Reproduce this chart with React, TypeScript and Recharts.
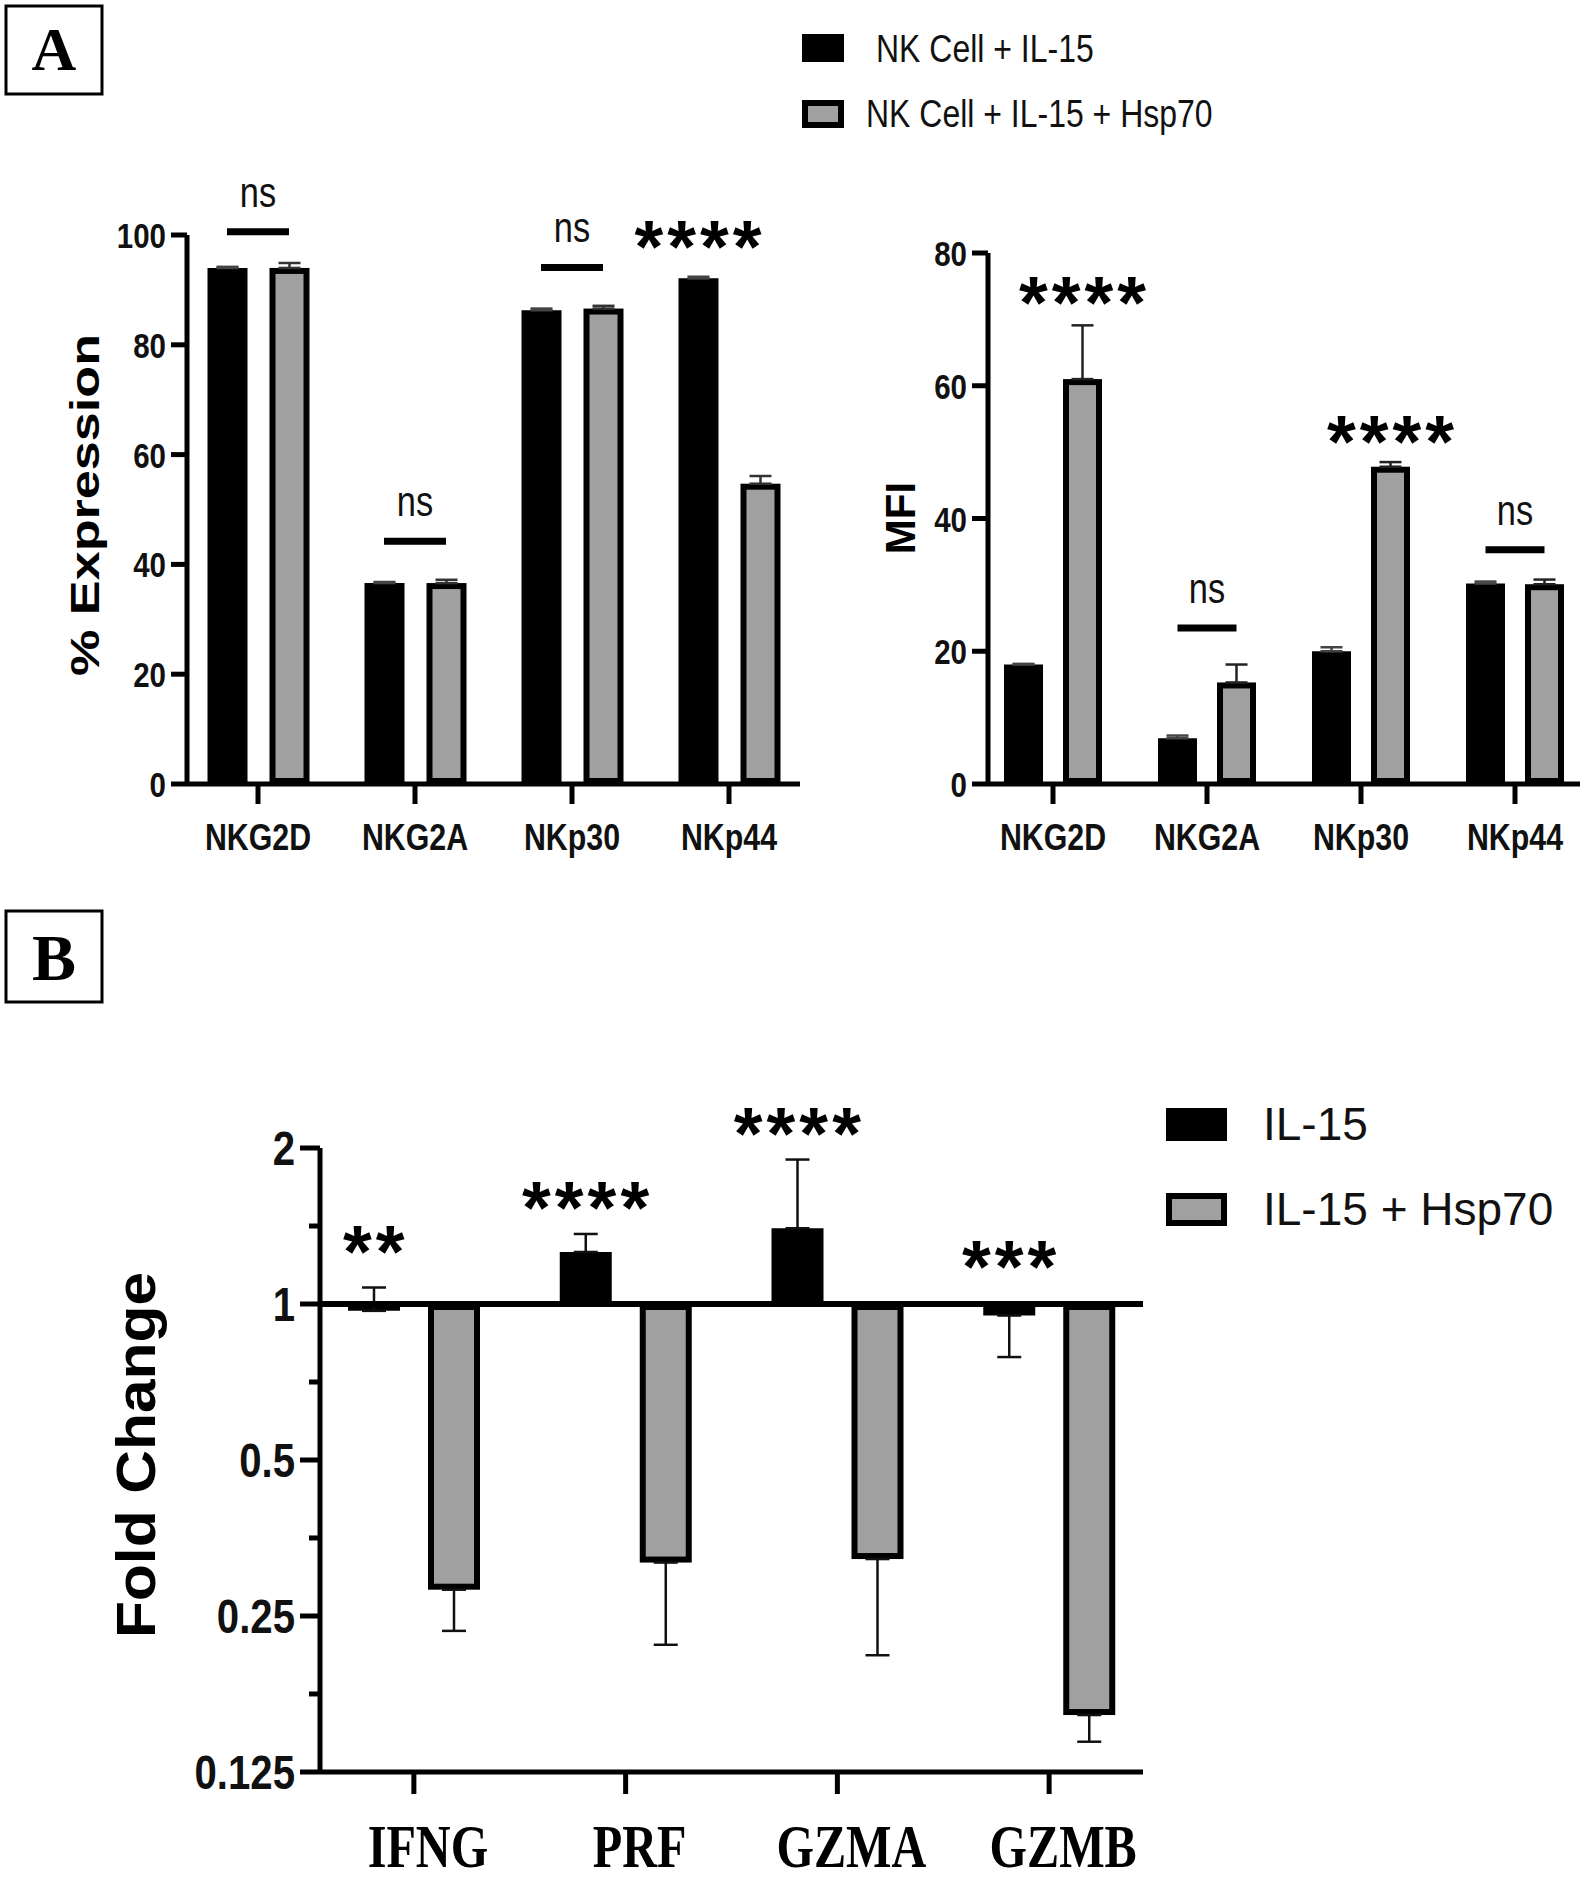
import React from "react";
import { BarChart, Bar, XAxis, YAxis, ErrorBar, ReferenceLine, ReferenceDot } from "recharts";

const SANS = "'Liberation Sans', Arial, Helvetica, sans-serif";
const SERIF = "'Liberation Serif', 'Times New Roman', Times, serif";
const GREY = "#a0a0a0";
const INK = "#111";
const NARROW = 0.82; // figure uses a condensed sans

// ---- panel A: receptor expression
const markers = ["NKG2D", "NKG2A", "NKp30", "NKp44"];
const pctIL15 = [94.0, 36.6, 86.3, 92.1];
const pctIL15Top = [94.2, 36.8, 86.6, 92.4];
const pctHsp = [94.0, 36.6, 86.6, 54.7];
const pctHspTop = [94.9, 37.2, 87.1, 56.1];
const pctTicks = [0, 20, 40, 60, 80, 100];

const mfiIL15 = [18.0, 6.9, 20.0, 30.2];
const mfiIL15Top = [18.1, 7.3, 20.6, 30.5];
const mfiHsp = [61.0, 15.3, 47.8, 30.1];
const mfiHspTop = [69.1, 18.0, 48.5, 30.8];
const mfiTicks = [0, 20, 40, 60, 80];

// ---- panel B: fold change (log2 axis)
const genes = ["IFNG", "PRF", "GZMA", "GZMB"];
const fcIL15 = [0.97, 1.26, 1.4, 0.95];
const fcIL15End = [1.076, 1.365, 1.9, 0.79];
const fcHsp = [0.281, 0.317, 0.322, 0.161];
const fcHspEnd = [0.234, 0.22, 0.21, 0.143];
const fcTicks = [0.125, 0.1768, 0.25, 0.3536, 0.5, 0.7071, 1, 1.4142, 2];
const fcMajor = [0.125, 0.25, 0.5, 1, 2];
const fcLabels = ["0.125", "0.25", "0.5", "1", "2"];

type Sig = { cat: string; label: string; at: number; over: "pair" | "il15" | "hsp" };

const sigPct: Sig[] = [
  { cat: "NKG2D", label: "ns", at: 100.6, over: "pair" },
  { cat: "NKG2A", label: "ns", at: 44.2, over: "pair" },
  { cat: "NKp30", label: "ns", at: 94.1, over: "pair" },
  { cat: "NKp44", label: "****", at: 99.3, over: "il15" },
];
const sigMfi: Sig[] = [
  { cat: "NKG2D", label: "****", at: 73.7, over: "hsp" },
  { cat: "NKG2A", label: "ns", at: 23.5, over: "pair" },
  { cat: "NKp30", label: "****", at: 52.7, over: "hsp" },
  { cat: "NKp44", label: "ns", at: 35.3, over: "pair" },
];
const sigFc: Sig[] = [
  { cat: "IFNG", label: "**", at: 1.306, over: "il15" },
  { cat: "PRF", label: "****", at: 1.59, over: "il15" },
  { cat: "GZMA", label: "****", at: 2.21, over: "il15" },
  { cat: "GZMB", label: "***", at: 1.22, over: "il15" },
];

const spread = (v: number, end: number) => (end >= v ? [0, end - v] : [v - end, 0]);

const pctRows = markers.map((name, i) => ({
  name,
  il15: pctIL15[i],
  hsp: pctHsp[i],
  il15Err: spread(pctIL15[i], pctIL15Top[i]),
  hspErr: spread(pctHsp[i], pctHspTop[i]),
}));
const mfiRows = markers.map((name, i) => ({
  name,
  il15: mfiIL15[i],
  hsp: mfiHsp[i],
  il15Err: spread(mfiIL15[i], mfiIL15Top[i]),
  hspErr: spread(mfiHsp[i], mfiHspTop[i]),
}));
// bars hang from 1 (no change), so each bar is a [1, value] range
const fcRows = genes.map((name, i) => ({
  name,
  il15: [1, fcIL15[i]],
  hsp: [1, fcHsp[i]],
  il15Err: spread(fcIL15[i], fcIL15End[i]),
  hspErr: spread(fcHsp[i], fcHspEnd[i]),
}));

// grey bar with the black border kept inside the bar width
function GreyBar(props: any) {
  const { x, y, width, height } = props;
  if (x == null || y == null || !width || !height) return <g />;
  const sw = 6;
  const top = Math.min(y, y + height);
  const h = Math.abs(height);
  return (
    <rect
      x={x + sw / 2}
      y={top + sw / 2}
      width={Math.max(0, width - sw)}
      height={Math.max(0, h - sw)}
      fill={GREY}
      stroke="#000"
      strokeWidth={sw}
    />
  );
}

function sigMark(s: Sig, half: number) {
  return (p: any) => {
    const { cx, cy } = p;
    if (cx == null || cy == null) return <g />;
    if (s.label === "ns") {
      return (
        <g>
          <line x1={cx - half} x2={cx + half} y1={cy} y2={cy} stroke="#000" strokeWidth={7} />
          <text
            transform={`translate(${cx},${cy - 25}) scale(${NARROW},1)`}
            textAnchor="middle"
            fontFamily={SANS}
            fontSize={42}
            fill={INK}
          >
            ns
          </text>
        </g>
      );
    }
    const x = s.over === "il15" ? cx - half : s.over === "hsp" ? cx + half : cx;
    return (
      <text
        x={x + 2}
        y={cy + 33}
        textAnchor="middle"
        fontFamily={SANS}
        fontWeight="bold"
        fontSize={74}
        letterSpacing={4}
        fill="#000"
      >
        {s.label}
      </text>
    );
  };
}

const yTickA = (p: any) => (
  <text
    transform={`translate(${p.x},${p.y}) scale(${NARROW},1)`}
    textAnchor="end"
    dy={13}
    fontFamily={SANS}
    fontWeight="bold"
    fontSize={36}
    fill={INK}
  >
    {p.payload.value}
  </text>
);

const xTickA = (p: any) => (
  <text
    transform={`translate(${p.x},${p.y + 46}) scale(${NARROW},1)`}
    textAnchor="middle"
    fontFamily={SANS}
    fontWeight="bold"
    fontSize={37}
    fill={INK}
  >
    {p.payload.value}
  </text>
);

function yTickB(p: any) {
  const v = p.payload.value;
  const axisX = p.x + 20;
  const k = fcMajor.indexOf(v);
  return (
    <g>
      <line x1={axisX - (k >= 0 ? 20 : 11)} x2={axisX} y1={p.y} y2={p.y} stroke="#000" strokeWidth={5} />
      {k >= 0 && (
        <text
          transform={`translate(${p.x - 5},${p.y}) scale(${NARROW},1)`}
          textAnchor="end"
          dy={17}
          fontFamily={SANS}
          fontWeight="bold"
          fontSize={49}
          fill={INK}
        >
          {fcLabels[k]}
        </text>
      )}
    </g>
  );
}

const xTickB = (p: any) => (
  <text
    transform={`translate(${p.x + 14},${p.y + 73}) scale(0.79,1)`}
    textAnchor="middle"
    fontFamily={SERIF}
    fontWeight="bold"
    fontSize={61}
    fill="#000"
  >
    {p.payload.value}
  </text>
);

const axisStroke = { stroke: "#000", strokeWidth: 5 };

function ExpressionChart() {
  return (
    <BarChart width={830} height={730} data={pctRows} margin={{ top: 85, right: 30, bottom: 16, left: 87 }} barGap={22}>
      <XAxis
        dataKey="name"
        interval={0}
        padding={{ left: -7.5, right: -7.5 }}
        axisLine={axisStroke}
        tickLine={axisStroke}
        tickSize={20}
        tickMargin={0}
        height={80}
        tick={xTickA}
      />
      <YAxis
        domain={[0, 100]}
        ticks={pctTicks}
        interval={0}
        allowDataOverflow
        width={100}
        axisLine={axisStroke}
        tickLine={axisStroke}
        tickSize={16}
        tickMargin={5}
        tick={yTickA}
      />
      <Bar dataKey="il15" fill="#000" barSize={40} isAnimationActive={false}>
        <ErrorBar dataKey="il15Err" direction="y" width={11} stroke="#444" strokeWidth={2.5} isAnimationActive={false} />
      </Bar>
      <Bar dataKey="hsp" fill={GREY} barSize={40} shape={<GreyBar />} isAnimationActive={false}>
        <ErrorBar dataKey="hspErr" direction="y" width={11} stroke="#333" strokeWidth={2.5} isAnimationActive={false} />
      </Bar>
      {sigPct.map((s) => (
        <ReferenceDot key={s.cat} x={s.cat} y={s.at} r={0} ifOverflow="visible" shape={sigMark(s, 31)} />
      ))}
    </BarChart>
  );
}

function MfiChart() {
  return (
    <BarChart width={744} height={730} data={mfiRows} margin={{ top: 103, right: 14, bottom: 16, left: 38 }} barGap={20}>
      <XAxis
        dataKey="name"
        interval={0}
        padding={{ left: -12, right: -12 }}
        axisLine={axisStroke}
        tickLine={axisStroke}
        tickSize={20}
        tickMargin={0}
        height={80}
        tick={xTickA}
      />
      <YAxis
        domain={[0, 80]}
        ticks={mfiTicks}
        interval={0}
        allowDataOverflow
        width={100}
        axisLine={axisStroke}
        tickLine={axisStroke}
        tickSize={16}
        tickMargin={5}
        tick={yTickA}
      />
      <Bar dataKey="il15" fill="#000" barSize={39} isAnimationActive={false}>
        <ErrorBar dataKey="il15Err" direction="y" width={11} stroke="#444" strokeWidth={2.5} isAnimationActive={false} />
      </Bar>
      <Bar dataKey="hsp" fill={GREY} barSize={39} shape={<GreyBar />} isAnimationActive={false}>
        <ErrorBar dataKey="hspErr" direction="y" width={11} stroke="#222" strokeWidth={2.5} isAnimationActive={false} />
      </Bar>
      {sigMfi.map((s) => (
        <ReferenceDot key={s.cat} x={s.cat} y={s.at} r={0} ifOverflow="visible" shape={sigMark(s, 29.5)} />
      ))}
    </BarChart>
  );
}

function FoldChangeChart() {
  return (
    <BarChart width={1594} height={880} data={fcRows} margin={{ top: 148, right: 451, bottom: 8, left: 200 }} barGap={28}>
      <XAxis
        dataKey="name"
        interval={0}
        padding={{ left: -12, right: -12 }}
        axisLine={axisStroke}
        tickLine={axisStroke}
        tickSize={22}
        tickMargin={0}
        height={100}
        tick={xTickB}
      />
      <YAxis
        scale="log"
        domain={[0.125, 2]}
        ticks={fcTicks}
        interval={0}
        allowDataOverflow
        width={120}
        axisLine={axisStroke}
        tickLine={false}
        tickSize={20}
        tickMargin={0}
        tick={yTickB}
      />
      <Bar dataKey="il15" fill="#000" barSize={52} isAnimationActive={false}>
        <ErrorBar dataKey="il15Err" direction="y" width={12} stroke="#111" strokeWidth={2.5} isAnimationActive={false} />
      </Bar>
      <Bar dataKey="hsp" fill={GREY} barSize={52} shape={<GreyBar />} isAnimationActive={false}>
        <ErrorBar dataKey="hspErr" direction="y" width={12} stroke="#111" strokeWidth={2.5} isAnimationActive={false} />
      </Bar>
      <ReferenceLine y={1} stroke="#000" strokeWidth={6} />
      {sigFc.map((s) => (
        <ReferenceDot key={s.cat} x={s.cat} y={s.at} r={0} ifOverflow="visible" shape={sigMark(s, 40)} />
      ))}
    </BarChart>
  );
}

function Overlay() {
  return (
    <svg width={1594} height={1880} style={{ position: "absolute", left: 0, top: 0, pointerEvents: "none" }}>
      {/* panel tags */}
      <rect x={6} y={6} width={96} height={88} fill="none" stroke="#000" strokeWidth={3} />
      <text x={54} y={70} textAnchor="middle" fontFamily={SERIF} fontWeight="bold" fontSize={62}>A</text>
      <rect x={6} y={911} width={96} height={91} fill="none" stroke="#000" strokeWidth={3} />
      <text x={54} y={980} textAnchor="middle" fontFamily={SERIF} fontWeight="bold" fontSize={66}>B</text>

      {/* legend, panel A */}
      <rect x={802} y={34} width={42} height={28} fill="#000" />
      <text transform={`translate(876,62) scale(${NARROW},1)`} fontFamily={SANS} fontSize={39} fill={INK}>NK Cell + IL-15</text>
      <rect x={805} y={103} width={36} height={22} fill={GREY} stroke="#000" strokeWidth={6} />
      <text transform={`translate(866,127) scale(${NARROW},1)`} fontFamily={SANS} fontSize={39} fill={INK}>NK Cell + IL-15 + Hsp70</text>

      {/* legend, panel B */}
      <rect x={1166} y={1108} width={61} height={33} fill="#000" />
      <text x={1263} y={1140} fontFamily={SANS} fontSize={46} fill={INK}>IL-15</text>
      <rect x={1169} y={1196} width={55} height={27} fill={GREY} stroke="#000" strokeWidth={6} />
      <text x={1263} y={1225} fontFamily={SANS} fontSize={46} fill={INK}>IL-15 + Hsp70</text>

      {/* axis titles */}
      <text transform="translate(99,505) rotate(-90)" textAnchor="middle" fontFamily={SANS} fontWeight="bold" fontSize={40} textLength={342} lengthAdjust="spacingAndGlyphs">% Expression</text>
      <text transform="translate(915,518) rotate(-90)" textAnchor="middle" fontFamily={SANS} fontWeight="bold" fontSize={42}>MFI</text>
      <text transform="translate(155,1455) rotate(-90)" textAnchor="middle" fontFamily={SANS} fontWeight="bold" fontSize={56} textLength={366} lengthAdjust="spacingAndGlyphs">Fold Change</text>
    </svg>
  );
}

export default function App() {
  return (
    <div style={{ position: "relative", width: 1594, height: 1880, background: "#fff", overflow: "hidden" }}>
      <style>{"body{margin:0}"}</style>
      <div style={{ position: "absolute", left: 0, top: 150 }}>
        <ExpressionChart />
      </div>
      <div style={{ position: "absolute", left: 850, top: 150 }}>
        <MfiChart />
      </div>
      <div style={{ position: "absolute", left: 0, top: 1000 }}>
        <FoldChangeChart />
      </div>
      <Overlay />
    </div>
  );
}
